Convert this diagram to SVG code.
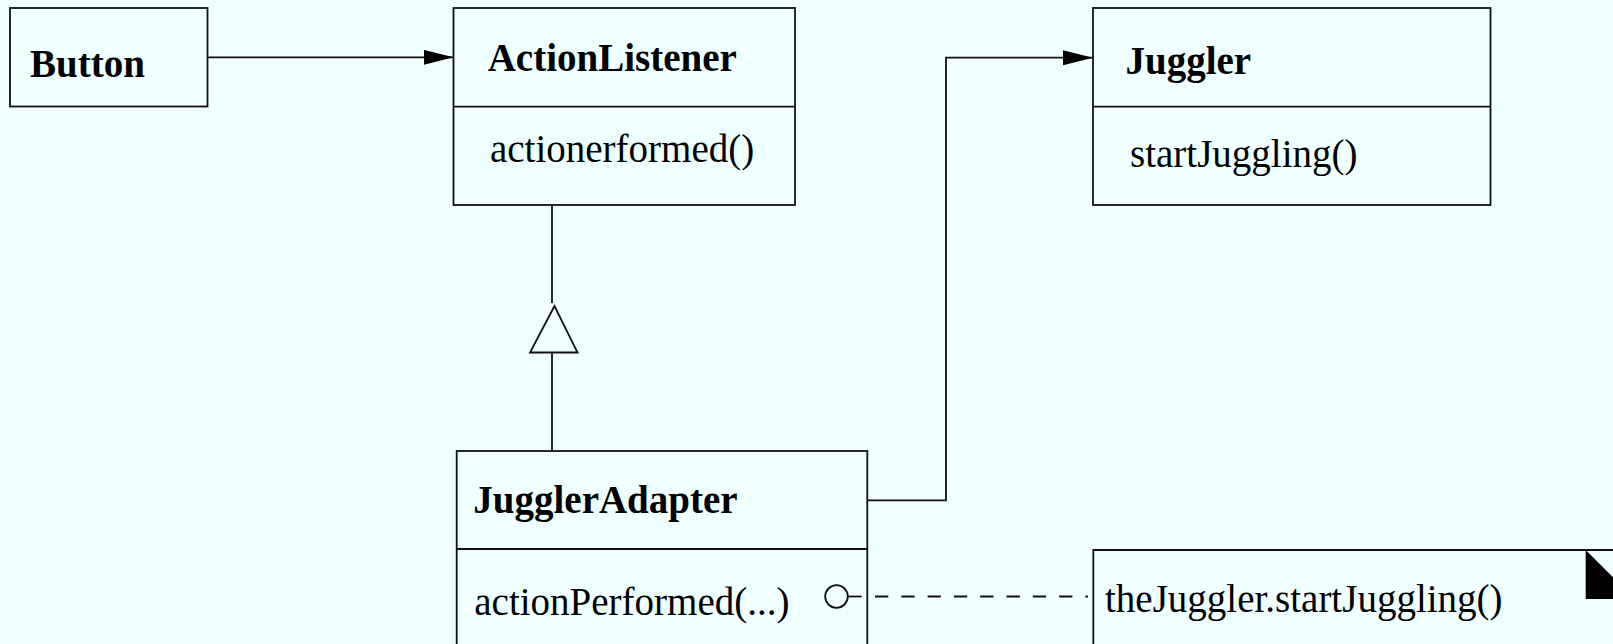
<svg xmlns="http://www.w3.org/2000/svg" width="1613" height="644" viewBox="0 0 1613 644">
<style>
.box{fill:none;stroke:#111;stroke-width:1.8}
.ln{fill:none;stroke:#111;stroke-width:1.8}
.b{font-family:"Liberation Serif","Times New Roman",serif;font-weight:bold;font-size:39px;fill:#000}
.r{font-family:"Liberation Serif","Times New Roman",serif;font-size:39px;fill:#000}
</style>
<defs>
<marker id="arr" markerUnits="userSpaceOnUse" markerWidth="32" markerHeight="18" refX="30" refY="7.5" orient="auto">
<path d="M0,0 L30,7.5 L0,15 Z" fill="#000"/>
</marker>
</defs>
<rect x="0" y="0" width="1613" height="644" fill="#F0FFFF"/>
<g id="Button">
<rect class="box" x="10" y="8" width="197.5" height="98.5"/>
<text class="b" x="30" y="77">Button</text>
</g>
<g id="ActionListener">
<rect class="box" x="453.5" y="8" width="341.5" height="197"/>
<line class="ln" x1="453.5" y1="106.7" x2="795" y2="106.7"/>
<text class="b" x="487.7" y="70.7">ActionListener</text>
<text class="r" x="490" y="161.7">actionerformed()</text>
</g>
<g id="Juggler">
<rect class="box" x="1093" y="8" width="397.5" height="197"/>
<line class="ln" x1="1093" y1="106.7" x2="1490.5" y2="106.7"/>
<text class="b" x="1125.5" y="74">Juggler</text>
<text class="r" x="1130" y="166.7">startJuggling()</text>
</g>
<g id="JugglerAdapter">
<rect class="box" x="456.7" y="451" width="410.6" height="210"/>
<line class="ln" x1="456.7" y1="549" x2="867.3" y2="549"/>
<text class="b" x="473.3" y="513.3">JugglerAdapter</text>
<text class="r" x="474.3" y="615">actionPerformed(...)</text>
<circle cx="836.5" cy="596.5" r="11.3" fill="none" stroke="#111" stroke-width="1.8"/>
<line class="ln" x1="847.8" y1="596.5" x2="861.7" y2="596.5"/>
</g>
<g id="Note">
<path class="ln" d="M1093.3,660 L1093.3,550 L1620,550"/>
<text class="r" x="1105" y="612">theJuggler.startJuggling()</text>
<polygon points="1585.7,550 1634.7,599 1585.7,599" fill="#000"/>
</g>
<g id="connectors">
<line class="ln" x1="207.5" y1="57.3" x2="453.5" y2="57.3" marker-end="url(#arr)"/>
<polyline class="ln" points="867.3,500.3 946,500.3 946,57.7 1093,57.7" marker-end="url(#arr)"/>
<line class="ln" x1="552" y1="205" x2="552" y2="303"/>
<polygon points="554.5,306 530,352.5 577.5,352.5" fill="none" stroke="#111" stroke-width="1.8"/>
<line class="ln" x1="552" y1="352.5" x2="552" y2="451"/>
<line class="ln" x1="875" y1="596.5" x2="1088" y2="596.5" stroke-dasharray="13.3,13"/>
</g>
</svg>
